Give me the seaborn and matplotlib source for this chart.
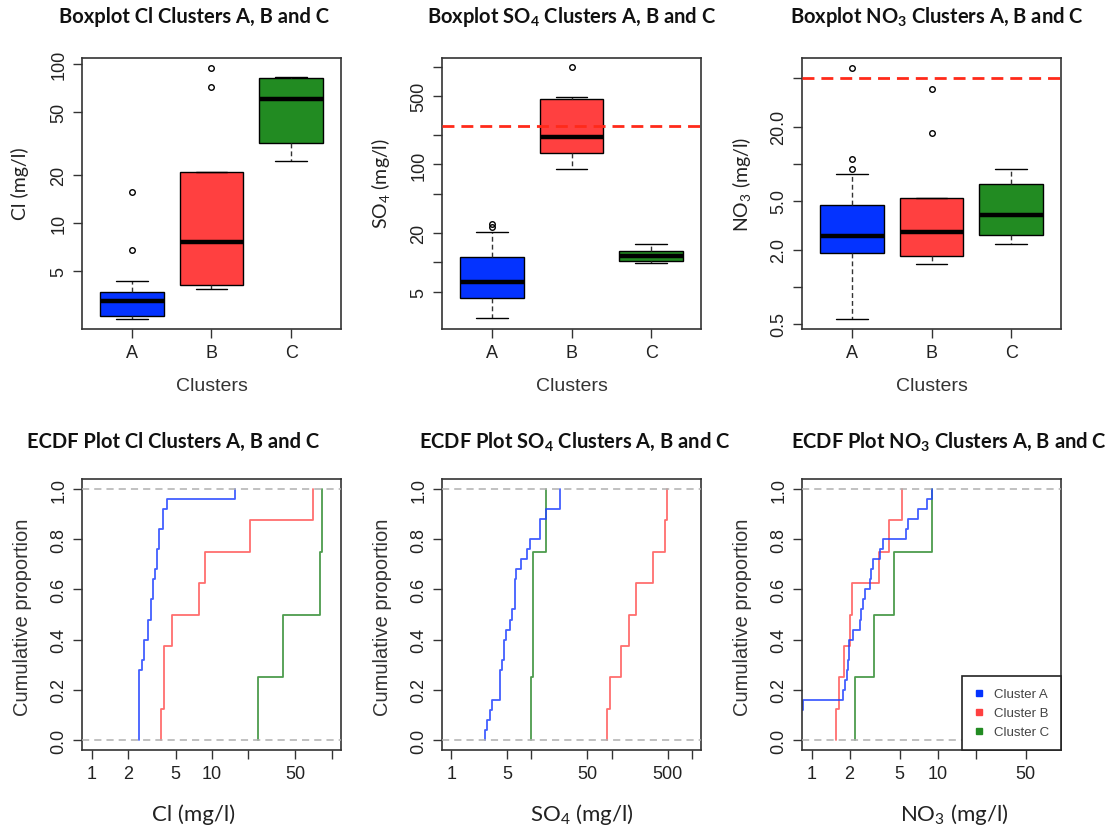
import numpy as np
import pandas as pd
import matplotlib
matplotlib.use("Agg")
import matplotlib.pyplot as plt
from matplotlib.lines import Line2D
from matplotlib.ticker import FixedLocator, FixedFormatter, NullLocator
import seaborn as sns


# DATA (mg/l)

clusters = ["A", "B", "C"]
box_colors = ["#0433ff", "#ff4040", "#228b22"]
line_colors = ["#2244ff", "#ff5555", "#2e8b2e"]

# samples behind the boxplots
cl_box_a = [2.49, 2.52, 2.55, 2.59, 2.8, 3.0, 3.21, 3.4, 3.55, 3.70, 4.34, 6.79, 15.7]
cl_box_b = [3.85, 4.0, 4.07, 4.6, 7.63, 8.8, 20.8, 71.3, 94.4]
cl_box_c = [24.4, 31.7, 60.2, 81.7, 82.8]

so4_box_a = [2.67, 3.0, 3.6, 4.31, 4.9, 5.6, 6.28, 7.5, 9.0, 11.3, 20.3, 22.8, 24.9]
so4_box_b = [89.5, 95.0, 132.6, 166.0, 190.6, 325.0, 465.0, 489.0, 985.0]
so4_box_c = [9.77, 10.2, 11.5, 13.2, 15.4]

no3_box_a = [0.545, 0.86, 1.5, 1.78, 1.88, 2.0, 2.2, 2.4, 2.56, 2.9, 3.4, 3.9, 4.63,
             8.29, 8.99, 10.9, 60.6]
no3_box_b = [1.53, 1.65, 1.79, 2.0, 2.77, 3.4, 5.25, 17.7, 40.9]
no3_box_c = [2.23, 2.65, 3.84, 6.79, 9.05]

# samples behind the ECDF curves
cl_a = [2.46, 2.47, 2.48, 2.48, 2.49, 2.49, 2.50, 2.65, 2.74, 2.74, 2.96, 2.96, 3.12,
        3.15, 3.25, 3.25, 3.40, 3.52, 3.52, 3.63, 3.63, 3.95, 3.95, 4.21, 15.7]
cl_b = [3.82, 4.0, 4.0, 4.63, 7.84, 8.8, 20.9, 70.7]
cl_c = [24.5, 39.2, 80.4, 83.0]

so4_a = [2.61, 2.79, 3.01, 3.25, 4.02, 4.02, 4.02, 4.34, 4.55, 4.55, 4.87, 5.36, 5.79,
         6.19, 6.19, 6.19, 6.49, 7.50, 8.83, 9.53, 12.7, 12.7, 15.4, 22.6, 23.0]
so4_b = [88.3, 95.3, 129.6, 166.0, 201.0, 325.0, 464.0, 487.0]
so4_c = [9.81, 10.5, 10.5, 15.4]

no3_a = [0.55, 0.65, 0.75, 0.86, 1.78, 1.84, 1.90, 1.94, 1.97, 1.99, 2.14, 2.42, 2.45,
         2.57, 2.65, 2.90, 2.94, 3.05, 3.49, 3.66, 5.61, 5.85, 6.94, 8.28, 8.96]
no3_b = [1.55, 1.65, 1.82, 2.01, 2.08, 3.44, 4.13, 5.24]
no3_c = [2.21, 3.12, 4.50, 9.07]

so4_limit = 250
no3_limit = 50


# STYLE

sns.set_style("ticks")
plt.rcParams["font.family"] = ["Liberation Sans", "DejaVu Sans"]
plt.rcParams["mathtext.fontset"] = "custom"
plt.rcParams["mathtext.rm"] = "Lato"
plt.rcParams["mathtext.bf"] = "Lato:bold"
plt.rcParams["mathtext.it"] = "Lato:italic"

W, H = 1110, 829
fig = plt.figure(figsize=(W / 100, H / 100), dpi=100)


def px_axes(x0, y0, x1, y1):
    return fig.add_axes([x0 / W, 1 - y1 / H, (x1 - x0) / W, (y1 - y0) / H])


def px_text(x, y, s, **kw):
    fig.text(x / W, 1 - y / H, s, ha="center", va="center", **kw)


def long_df(a, b, c):
    return pd.DataFrame({
        "cluster": ["A"] * len(a) + ["B"] * len(b) + ["C"] * len(c),
        "value": a + b + c,
    })


def frame(ax):
    for sp in ax.spines.values():
        sp.set_visible(True)
        sp.set_color("#333333")
        sp.set_linewidth(1.2)
    ax.tick_params(direction="out", length=6.5, width=1, color="#333333",
                   labelsize=13, labelcolor="#222222")
    ax.tick_params(axis="x", pad=4)
    ax.tick_params(axis="y", pad=4, labelrotation=90)
    for lab in ax.get_yticklabels():
        lab.set_va("center")
    ax.set_xlabel("")
    ax.set_ylabel("")


def box_panel(ax, df, ylim, ticks, labels, limit=None):
    sns.boxplot(data=df, x="cluster", y="value", hue="cluster", order=clusters,
                palette=box_colors, saturation=1, width=0.8, linecolor="black",
                linewidth=1, legend=False, ax=ax,
                whiskerprops=dict(linestyle=(0, (3.5, 2.2)), color="#333333"),
                capprops=dict(color="black"),
                medianprops=dict(color="black", linewidth=3.2),
                flierprops=dict(marker="o", markersize=4, markerfacecolor="none",
                                markeredgecolor="black", markeredgewidth=1))
    ax.set_yscale("log")
    if limit is not None:
        ax.axhline(limit, color="#ff2a1a", lw=2, linestyle=(0, (4.3, 2.5)), zorder=5)
    ax.set_xlim(-0.62, 2.62)
    ax.set_ylim(*ylim)
    ax.yaxis.set_major_locator(FixedLocator(ticks))
    ax.yaxis.set_major_formatter(FixedFormatter(labels))
    ax.yaxis.set_minor_locator(NullLocator())
    frame(ax)


def ecdf_panel(ax, df, xlim, ticks, labels):
    sns.ecdfplot(data=df, x="value", hue="cluster", hue_order=clusters,
                 palette=line_colors, log_scale=True, legend=False, ax=ax,
                 linewidth=1.3, alpha=0.85)
    for lev in (0, 1):
        ax.axhline(lev, color="#b0b0b0", lw=1.1, linestyle=(0, (4.7, 3.3)), zorder=4)
    ax.set_xlim(*xlim)
    ax.set_ylim(-0.04, 1.04)
    ax.xaxis.set_major_locator(FixedLocator(ticks))
    ax.xaxis.set_major_formatter(FixedFormatter(labels))
    ax.xaxis.set_minor_locator(NullLocator())
    ax.set_yticks([0, 0.2, 0.4, 0.6, 0.8, 1.0])
    ax.set_yticklabels(["0.0", "0.2", "0.4", "0.6", "0.8", "1.0"])
    frame(ax)


cols = [(82, 341), (442, 701), (802, 1061)]

# BOXPLOTS

ax1 = px_axes(cols[0][0], 59, cols[0][1], 330)
box_panel(ax1, long_df(cl_box_a, cl_box_b, cl_box_c), (2.155, 108.5),
          [5, 10, 20, 50, 100], ["5", "10", "20", "50", "100"])

ax2 = px_axes(cols[1][0], 59, cols[1][1], 330)
box_panel(ax2, long_df(so4_box_a, so4_box_b, so4_box_c), (2.08, 1227),
          [5, 10, 20, 50, 100, 200, 500, 1000],
          ["5", "", "20", "", "100", "", "500", ""], limit=so4_limit)

ax3 = px_axes(cols[2][0], 59, cols[2][1], 330)
box_panel(ax3, long_df(no3_box_a, no3_box_b, no3_box_c), (0.452, 72.6),
          [0.5, 1, 2, 5, 10, 20, 50],
          ["0.5", "", "2.0", "5.0", "", "20.0", ""], limit=no3_limit)

# ECDF PLOTS

ax4 = px_axes(cols[0][0], 480, cols[0][1], 751)
ecdf_panel(ax4, long_df(cl_a, cl_b, cl_c), (0.83, 120),
           [1, 2, 5, 10, 20, 50, 100], ["1", "2", "5", "10", "", "50", ""])

ax5 = px_axes(cols[1][0], 480, cols[1][1], 751)
ecdf_panel(ax5, long_df(so4_a, so4_b, so4_c), (0.764, 1309),
           [1, 5, 10, 50, 100, 500, 1000], ["1", "5", "", "50", "", "500", ""])

ax6 = px_axes(cols[2][0], 480, cols[2][1], 751)
ecdf_panel(ax6, long_df(no3_a, no3_b, no3_c), (0.838, 95.2),
           [1, 2, 5, 10, 20, 50], ["1", "2", "5", "10", "", "50"])

handles = [Line2D([], [], marker="s", linestyle="", color=c, markersize=5)
           for c in box_colors]
leg = ax6.legend(handles, ["Cluster A", "Cluster B", "Cluster C"], loc="lower right",
                 bbox_to_anchor=(1, 0), borderaxespad=0, frameon=True, fancybox=False,
                 framealpha=1, edgecolor="#222222", fontsize=9.5, handlelength=0.8,
                 handletextpad=0.7, borderpad=0.9, labelspacing=0.5)
leg.get_frame().set_linewidth(1.2)
for t in leg.get_texts():
    t.set_color("#444444")

# TEXT

title_kw = dict(fontsize=14.5, fontweight="bold", family="Lato", color="#111111")
px_text(194, 17, "Boxplot Cl Clusters A, B and C", **title_kw)
px_text(572, 17, r"Boxplot SO$_\mathbf{4}$ Clusters A, B and C", **title_kw)
px_text(937, 17, r"Boxplot NO$_\mathbf{3}$ Clusters A, B and C", **title_kw)
px_text(173, 442, "ECDF Plot Cl Clusters A, B and C", **title_kw)
px_text(575, 442, r"ECDF Plot SO$_\mathbf{4}$ Clusters A, B and C", **title_kw)
px_text(949, 442, r"ECDF Plot NO$_\mathbf{3}$ Clusters A, B and C", **title_kw)

unit_kw = dict(family="Lato", color="#222222")
px_text(20, 184, "Cl (mg/l)", rotation=90, fontsize=14, **unit_kw)
px_text(380, 184, r"SO$_\mathrm{4}$ (mg/l)", rotation=90, fontsize=14, **unit_kw)
px_text(742, 184, r"NO$_\mathrm{3}$ (mg/l)", rotation=90, fontsize=14, **unit_kw)
px_text(194, 815, "Cl (mg/l)", fontsize=16, **unit_kw)
px_text(582, 815, r"SO$_\mathrm{4}$ (mg/l)", fontsize=16, **unit_kw)
px_text(954, 815, r"NO$_\mathrm{3}$ (mg/l)", fontsize=16, **unit_kw)

for (x0, x1) in cols:
    px_text((x0 + x1) / 2, 387, "Clusters", fontsize=14, color="#333333")
for x in (23, 383, 743):
    px_text(x, 617, "Cumulative proportion", rotation=90, fontsize=14.5, color="#333333")

fig.savefig("out.png", dpi=100, facecolor="white")
